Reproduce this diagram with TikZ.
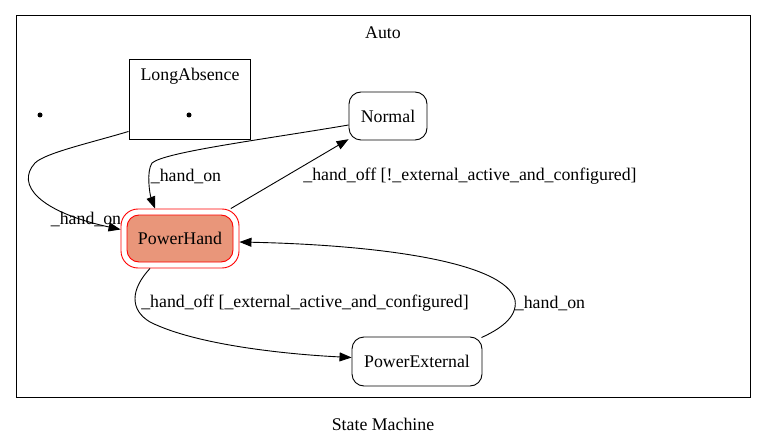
\documentclass[tikz,border=0pt]{standalone}
\usepackage{fontspec}
\setmainfont{Liberation Serif}
\usetikzlibrary{arrows.meta}
\definecolor{phfill}{HTML}{E9967A}
\begin{document}
\begin{tikzpicture}[x=1pt,y=-1pt,
  every node/.style={font=\fontsize{17.8}{20}\selectfont, inner sep=0pt},
  state/.style={draw, line width=0.9pt, rounded corners=12pt},
  edge/.style={line width=0.9pt, -{Triangle[length=12pt,width=9pt]}},
  lbl/.style={anchor=center},
  dotst/.style={circle, fill, minimum size=5pt}]
\useasboundingbox (0,0) rectangle (767,446);
\fill[white] (0,0) rectangle (767,446);
% cluster
\node[draw, line width=1pt, minimum width=734pt, minimum height=381pt] (auto) at (383,206.5) {};
\node (autolbl) at (383,33) {Auto};
\node (smlbl) at (383,424) {State Machine};
% initial dot
\node[dotst] (init) at (40,115) {};
% LongAbsence cluster
\node[draw, line width=0.9pt, minimum width=121pt, minimum height=80pt] (longabs) at (189.5,99) {};
\node (lalbl) at (190,76) {LongAbsence};
\node[dotst] (lainit) at (189,115) {};
% states
\node[state, minimum width=78pt, minimum height=48pt] (normal) at (388,116) {Normal};
\node[state, draw=red, rounded corners=17pt, minimum width=118pt, minimum height=59pt] (phouter) at (180,238.5) {};
\node[state, draw=red, fill=phfill, minimum width=106pt, minimum height=47pt] (ph) at (180,238.5) {PowerHand};
\node[state, minimum width=130pt, minimum height=49pt] (pe) at (417,361.5) {PowerExternal};
% edges
\draw[edge] ([yshift=8pt]longabs.south west) .. controls (90,143) and (45,153) .. (35,163)
  .. controls (15,185) and (40,212) .. ([yshift=9pt]phouter.west);
\node[lbl] (l1) at (86,219) {\_hand\_on};
\draw[edge] ([yshift=-9pt]normal.west) .. controls (260,140) and (165,152) .. (152,163)
  .. controls (146,172) and (150,195) .. ([xshift=-25pt]phouter.north);
\node[lbl] (l2) at (186,176) {\_hand\_on};
\draw[edge] (phouter) -- (normal);
\node[lbl] (l3) at (470,176) {\_hand\_off [!\_external\_active\_and\_configured]};
\draw[edge] ([xshift=-30pt]phouter.south) .. controls (130,290) and (130,310) .. (150,322)
  .. controls (200,347) and (300,355) .. ([yshift=4pt]pe.west);
\node[lbl] (l4) at (305,303) {\_hand\_off [\_external\_active\_and\_configured]};
\draw[edge] ([yshift=-1pt,xshift=-1pt]pe.north east) .. controls (498,330) and (518,318) .. (515,300)
  .. controls (505,262) and (380,245) .. ([yshift=-3.5pt]phouter.east);
\node[lbl] (l5) at (550,303) {\_hand\_on};
\end{tikzpicture}
\end{document}
